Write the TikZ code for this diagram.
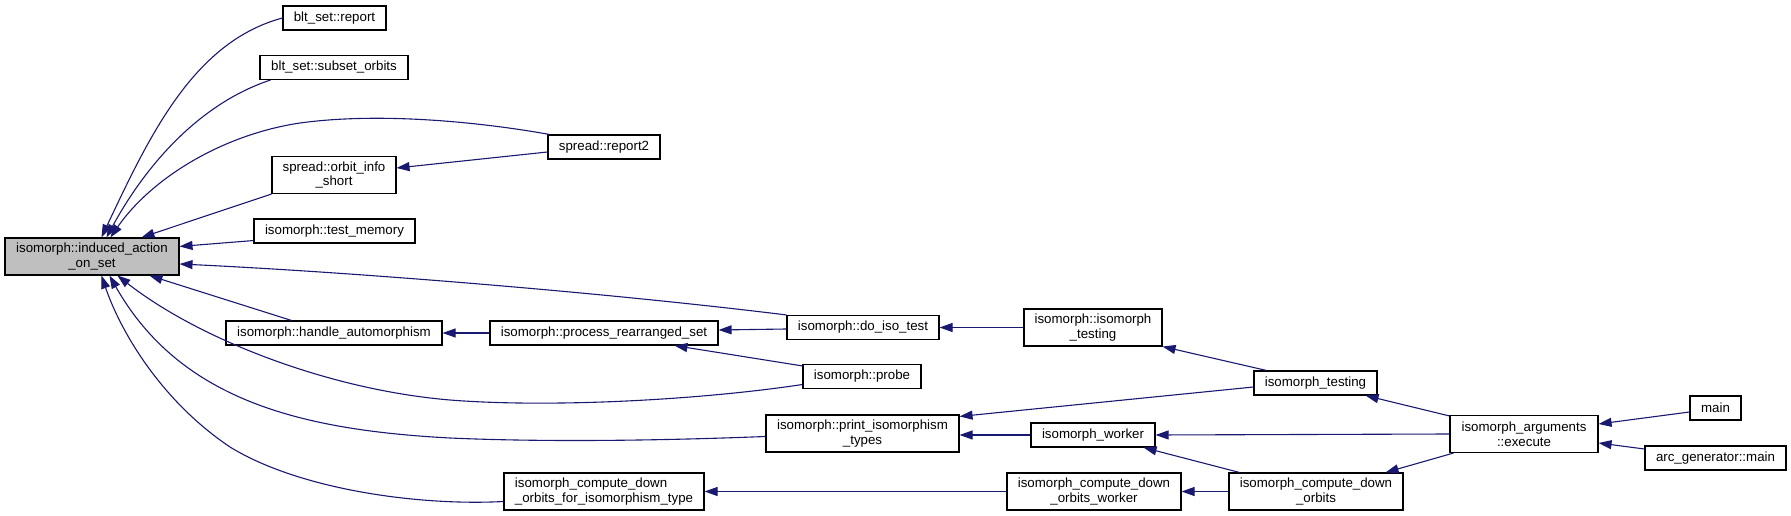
\documentclass[tikz,border=0pt]{standalone}
\usepackage{fontspec}
\setmainfont{Liberation Sans}
\usetikzlibrary{arrows.meta,calc}
\definecolor{edgecol}{HTML}{191970}
\definecolor{hlfill}{HTML}{BFBFBF}
\begin{document}
\begin{tikzpicture}[x=1pt,y=-1pt,
  box/.style={draw=black, line width=1.1pt, fill=white, inner sep=0pt,
    font=\fontsize{13.3}{14.6}\selectfont, align=center},
  hl/.style={box, fill=hlfill},
  edge/.style={draw=edgecol, line width=1.1pt, -{Triangle[length=13pt,width=9pt]}}]
\useasboundingbox (0,0) rectangle (1791,516);

% nodes
\node[hl, minimum width=174pt, minimum height=37pt] (induced) at (92,256.5) {isomorph::induced\_action\\\_on\_set};
\node[box, minimum width=103pt, minimum height=24pt] (report) at (334.5,18) {blt\_set::report};
\node[box, minimum width=148pt, minimum height=24pt] (subset) at (334,67.5) {blt\_set::subset\_orbits};
\node[box, minimum width=124pt, minimum height=37pt] (orbit) at (334,175) {spread::orbit\_info\\\_short};
\node[box, minimum width=161pt, minimum height=24pt] (testmem) at (334.5,231) {isomorph::test\_memory};
\node[box, minimum width=216pt, minimum height=24pt] (handle) at (334,333) {isomorph::handle\_automorphism};
\node[box, minimum width=112pt, minimum height=24pt] (report2) at (604,147) {spread::report2};
\node[box, minimum width=228pt, minimum height=24pt] (process) at (604,333) {isomorph::process\_rearranged\_set};
\node[box, minimum width=200pt, minimum height=37pt, align=left] (cdotype) at (604,491.5) {isomorph\_compute\_down\\\_orbits\_for\_isomorphism\_type};
\node[box, minimum width=152pt, minimum height=24pt] (doiso) at (863,327.5) {isomorph::do\_iso\_test};
\node[box, minimum width=118pt, minimum height=24pt] (probe) at (862,376.5) {isomorph::probe};
\node[box, minimum width=193pt, minimum height=37pt] (print) at (862.5,433.5) {isomorph::print\_isomorphism\\\_types};
\node[box, minimum width=138pt, minimum height=37pt] (isotestm) at (1093,327.5) {isomorph::isomorph\\\_testing};
\node[box, minimum width=124pt, minimum height=24pt] (worker) at (1093,435) {isomorph\_worker};
\node[box, minimum width=174pt, minimum height=37pt] (cdow) at (1094,491.5) {isomorph\_compute\_down\\\_orbits\_worker};
\node[box, minimum width=123pt, minimum height=24pt] (isotest) at (1315.5,383) {isomorph\_testing};
\node[box, minimum width=174pt, minimum height=37pt] (cdo) at (1316,491.5) {isomorph\_compute\_down\\\_orbits};
\node[box, minimum width=148pt, minimum height=37pt] (execute) at (1524,434) {isomorph\_arguments\\::execute};
\node[box, minimum width=51pt, minimum height=24pt] (main) at (1715.5,408) {main};
\node[box, minimum width=141pt, minimum height=24pt] (arcmain) at (1715.5,458) {arc\_generator::main};

% edges into induced
\draw[edge] (report.west) .. controls (193,42) and (149,137) .. ($(induced.north west)+(97,0)$);
\draw[edge] ($(subset.south west)+(11,0)$) .. controls (201,103) and (147,163) .. ($(induced.north west)+(102,0)$);
\draw[edge] ($(report2.north west)+(2,0)$) .. controls (480,122) and (380,112) .. (300,123)
   .. controls (220,135) and (150,180) .. ($(induced.north west)+(106,0)$);
\draw[edge] (orbit.south west) -- ($(induced.north west)+(137,0)$);
\draw[edge] ($(testmem.south west)+(0,-3)$) -- ($(induced.north east)+(0,9)$);
\draw[edge] (doiso.north west) .. controls (600,292) and (350,272) .. ($(induced.east)+(0,7.5)$);
\draw[edge] ($(handle.north west)+(66,0)$) -- ($(induced.south west)+(145,0)$);
\draw[edge] ($(probe.west)+(0,8)$) .. controls (700,400) and (550,408) .. (450,400)
   .. controls (330,390) and (200,340) .. ($(induced.south west)+(113,0)$);
\draw[edge] ($(print.west)+(0,3)$) .. controls (650,441) and (540,442) .. (450,438)
   .. controls (300,430) and (180,400) .. ($(induced.south west)+(105,0)$);
\draw[edge] ($(cdotype.west)+(0,10)$) .. controls (420,506) and (300,490) .. (230,447)
   .. controls (160,400) and (120,330) .. ($(induced.south west)+(97,0)$);

% other edges
\draw[edge] ($(report2.west)+(0,5)$) -- ($(orbit.east)+(0,-7)$);
\draw[edge] (process.west) -- (handle.east);
\draw[edge] ($(doiso.west)+(0,1.5)$) -- ($(process.east)+(0,-3)$);
\draw[edge] ($(probe.north west)+(0,2)$) -- ($(process.south west)+(185,0)$);
\draw[edge] (isotestm.west) -- (doiso.east);
\draw[edge] ($(isotest.north west)+(13,0)$) -- (isotestm.south east);
\draw[edge] ($(isotest.west)+(0,4)$) -- ($(print.north east)+(0,2)$);
\draw[edge] (worker.west) -- ($(print.east)+(0,1.5)$);
\draw[edge] ($(execute.north west)+(0,1)$) -- ($(isotest.south east)+(-12,0)$);
\draw[edge] (execute.west) -- (worker.east);
\draw[edge] ($(cdo.north west)+(11,0)$) -- ($(worker.south east)+(-12,0)$);
\draw[edge] ($(execute.south west)+(4,0)$) -- ($(cdo.north east)+(-18,0)$);
\draw[edge] (cdow.west) -- (cdotype.east);
\draw[edge] (cdo.west) -- (cdow.east);
\draw[edge] ($(main.west)+(0,4)$) -- ($(execute.east)+(0,-10)$);
\draw[edge] ($(arcmain.west)+(0,-9)$) -- ($(execute.east)+(0,9)$);
\end{tikzpicture}
\end{document}
